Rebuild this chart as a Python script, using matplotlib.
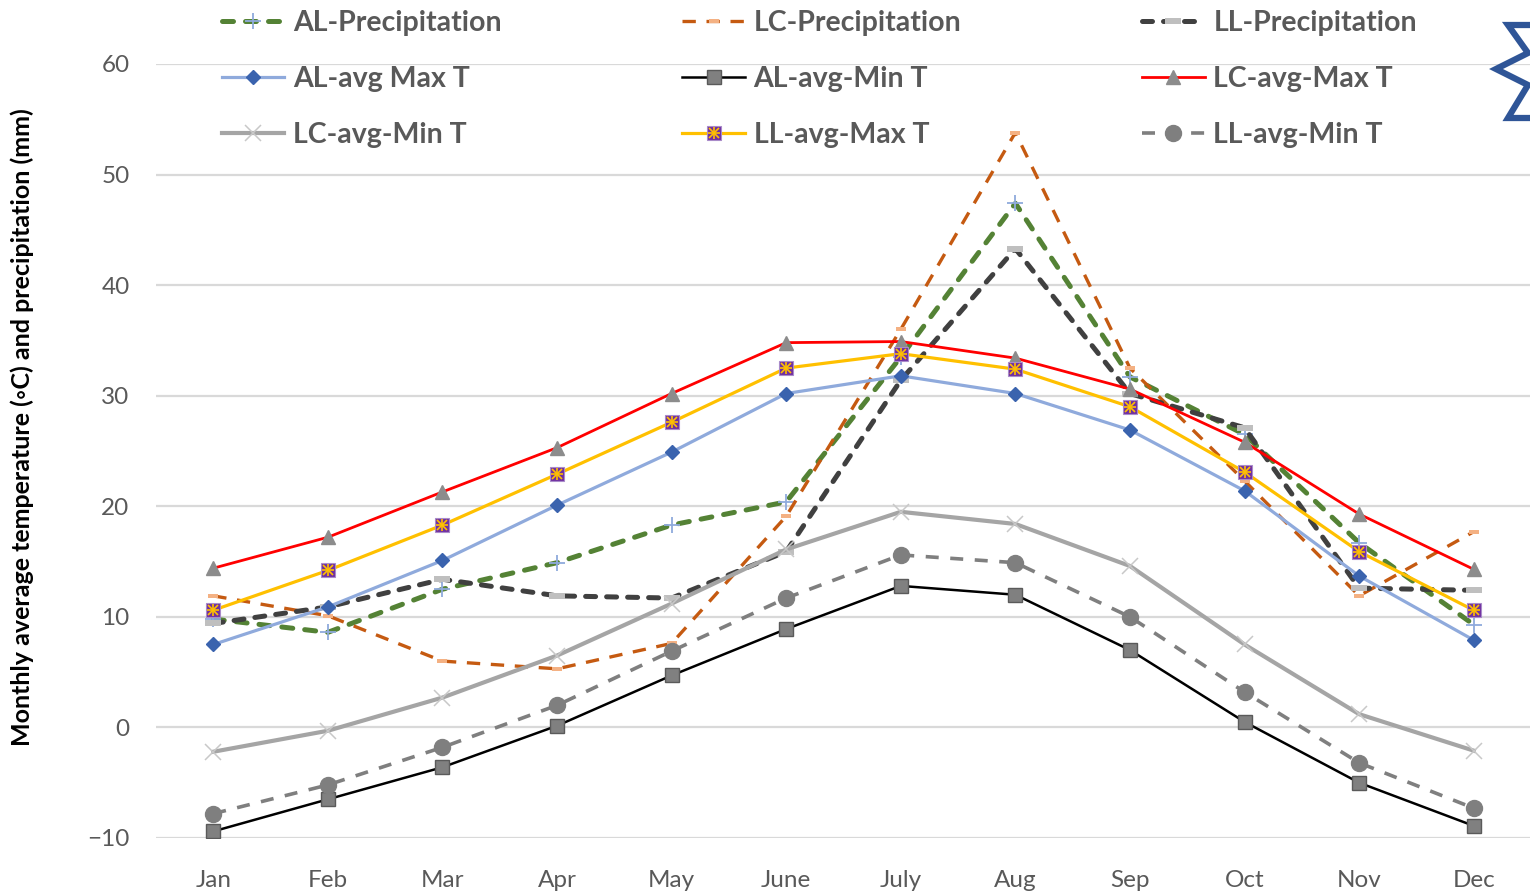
import numpy as np
import matplotlib.pyplot as plt
from matplotlib.patches import Polygon

# months on the category axis
months = ['Jan', 'Feb', 'Mar', 'Apr', 'May', 'June', 'July', 'Aug', 'Sep', 'Oct', 'Nov', 'Dec']

# precipitation (mm)
al_prec = [9.8, 8.6, 12.5, 14.9, 18.3, 20.4, 33.5, 47.4, 31.7, 26.5, 16.7, 9.3]
lc_prec = [11.9, 10.1, 6.0, 5.3, 7.6, 19.1, 36.0, 53.8, 32.5, 22.3, 11.9, 17.7]
ll_prec = [9.4, 10.9, 13.4, 11.9, 11.7, 15.9, 31.4, 43.3, 30.2, 27.1, 12.6, 12.4]

# average max / min temperature (C)
al_max = [7.5, 10.9, 15.1, 20.1, 24.9, 30.2, 31.8, 30.2, 26.9, 21.4, 13.7, 7.9]
al_min = [-9.4, -6.5, -3.6, 0.15, 4.7, 8.9, 12.8, 12.0, 7.0, 0.5, -5.0, -8.9]
lc_max = [14.4, 17.2, 21.3, 25.3, 30.2, 34.8, 34.9, 33.4, 30.6, 25.8, 19.3, 14.3]
lc_min = [-2.2, -0.3, 2.7, 6.5, 11.2, 16.1, 19.5, 18.4, 14.6, 7.5, 1.2, -2.1]
ll_max = [10.6, 14.2, 18.3, 22.9, 27.6, 32.5, 33.8, 32.4, 29.0, 23.1, 15.9, 10.6]
ll_min = [-7.8, -5.2, -1.8, 2.0, 6.9, 11.7, 15.6, 14.9, 10.0, 3.2, -3.2, -7.3]

x = np.arange(len(months))

# flat bar markers used by the precipitation series
bar_lc = [(-1, -0.45), (1, -0.45), (1, 0.45), (-1, 0.45), (-1, -0.45)]
bar_ll = [(-1, -0.38), (1, -0.38), (1, 0.38), (-1, 0.38), (-1, -0.38)]

fig = plt.figure(figsize=(15.3, 8.96), dpi=100)
ax = fig.add_axes([156 / 1530, 1 - 838 / 896, 1375 / 1530, 774 / 896])

h_alp, = ax.plot(x, al_prec, color='#548235', lw=3.6, dashes=(2.2, 2.4),
                 dash_capstyle='round', marker='+', ms=12, mew=1.3,
                 mec='#8FAADC', label='AL-Precipitation')
h_lcp, = ax.plot(x, lc_prec, color='#C55A11', lw=2.4, dashes=(4.0, 3.2),
                 marker=bar_lc, ms=7, mfc='#F4B183', mec='#F4B183', mew=0,
                 label='LC-Precipitation')
h_llp, = ax.plot(x, ll_prec, color='#404040', lw=3.6, dashes=(2.0, 2.2),
                 dash_capstyle='round', marker=bar_ll, ms=12, mfc='#BFBFBF',
                 mec='#BFBFBF', mew=0, label='LL-Precipitation')
h_alx, = ax.plot(x, al_max, color='#8FAADC', lw=2.3, marker='D', ms=7.5,
                 mfc='#3A63AE', mec='#3A63AE', label='AL-avg Max T')
h_aln, = ax.plot(x, al_min, color='black', lw=1.8, marker='s', ms=9.5,
                 mfc='#808080', mec='#5A5A5A', mew=1, label='AL-avg-Min T')
h_lcx, = ax.plot(x, lc_max, color='#FF0000', lw=2.0, marker='^', ms=10,
                 mfc='#8C8C8C', mec='#8C8C8C', label='LC-avg-Max T')
h_lcn, = ax.plot(x, lc_min, color='#A5A5A5', lw=3.0, marker='x', ms=11,
                 mew=1.1, mec='#C8C8C8', label='LC-avg-Min T')
h_llx, = ax.plot(x, ll_max, color='#FFC000', lw=2.3, marker='s', ms=10,
                 mfc='#7030A0', mec='#A98BC9', mew=0.8, label='LL-avg-Max T')
h_llx2, = ax.plot(x, ll_max, ls='none', marker='+', ms=8.5, mew=1.2, mec='#FFC000')
h_llx3, = ax.plot(x, ll_max, ls='none', marker='x', ms=7, mew=1.2, mec='#FFC000')
h_lln, = ax.plot(x, ll_min, color='#7F7F7F', lw=2.6, dashes=(3.6, 3.2),
                 marker='o', ms=11.5, mfc='#7F7F7F', mec='#7F7F7F',
                 label='LL-avg-Min T')

ax.set_xlim(-0.5, 11.5)
ax.set_ylim(-10, 60)
ax.set_yticks(np.arange(-10, 61, 10))
ax.set_xticks(x)
ax.set_xticklabels(months)
ax.grid(axis='y', color='#D9D9D9', lw=1.6)
ax.set_axisbelow(True)
for s in ax.spines.values():
    s.set_visible(False)
ax.tick_params(length=0, labelcolor='#595959', labelsize=17.5)
ax.tick_params(axis='x', pad=23)
ax.tick_params(axis='y', pad=19)
for lab in ax.get_xticklabels() + ax.get_yticklabels():
    lab.set_family(['Lato', 'DejaVu Sans'])

fig.text(22 / 1530, 1 - 427 / 896,
         'Monthly average temperature (\u25e6C) and precipitation (mm)',
         rotation=90, ha='center', va='center', fontsize=18, fontweight='bold',
         family=['Lato', 'DejaVu Sans'])

# legend filled column by column: three rows of three entries
handles = [h_alp, h_alx, h_lcn,
           h_lcp, h_aln, (h_llx, h_llx2, h_llx3),
           h_llp, h_lcx, h_lln]
labels = ['AL-Precipitation', 'AL-avg Max T', 'LC-avg-Min T',
          'LC-Precipitation', 'AL-avg-Min T', 'LL-avg-Max T',
          'LL-Precipitation', 'LC-avg-Max T', 'LL-avg-Min T']
fig.legend(handles, labels, ncol=3, loc='upper left',
           bbox_to_anchor=(199 / 1530, 1 + 13 / 896), frameon=False,
           prop={'family': ['Lato', 'DejaVu Sans'], 'weight': 'bold', 'size': 20.5},
           labelcolor='#595959', handlelength=2.2, handletextpad=0.3,
           columnspacing=6.35, labelspacing=1.05, borderpad=0.3)

# star outline in the upper right corner
star = Polygon([(1560, 25), (1508, 25), (1528, 53), (1496, 69), (1528, 85),
                (1508, 118), (1560, 118)], closed=True, fill=False,
               ec='#2F5597', lw=4.5, joinstyle='miter')
star.set_transform(fig.dpi_scale_trans)
star.set_xy([(px / 100, (896 - py) / 100) for px, py in star.get_xy()])
fig.patches.append(star)

fig.savefig('out.png', dpi=100)
